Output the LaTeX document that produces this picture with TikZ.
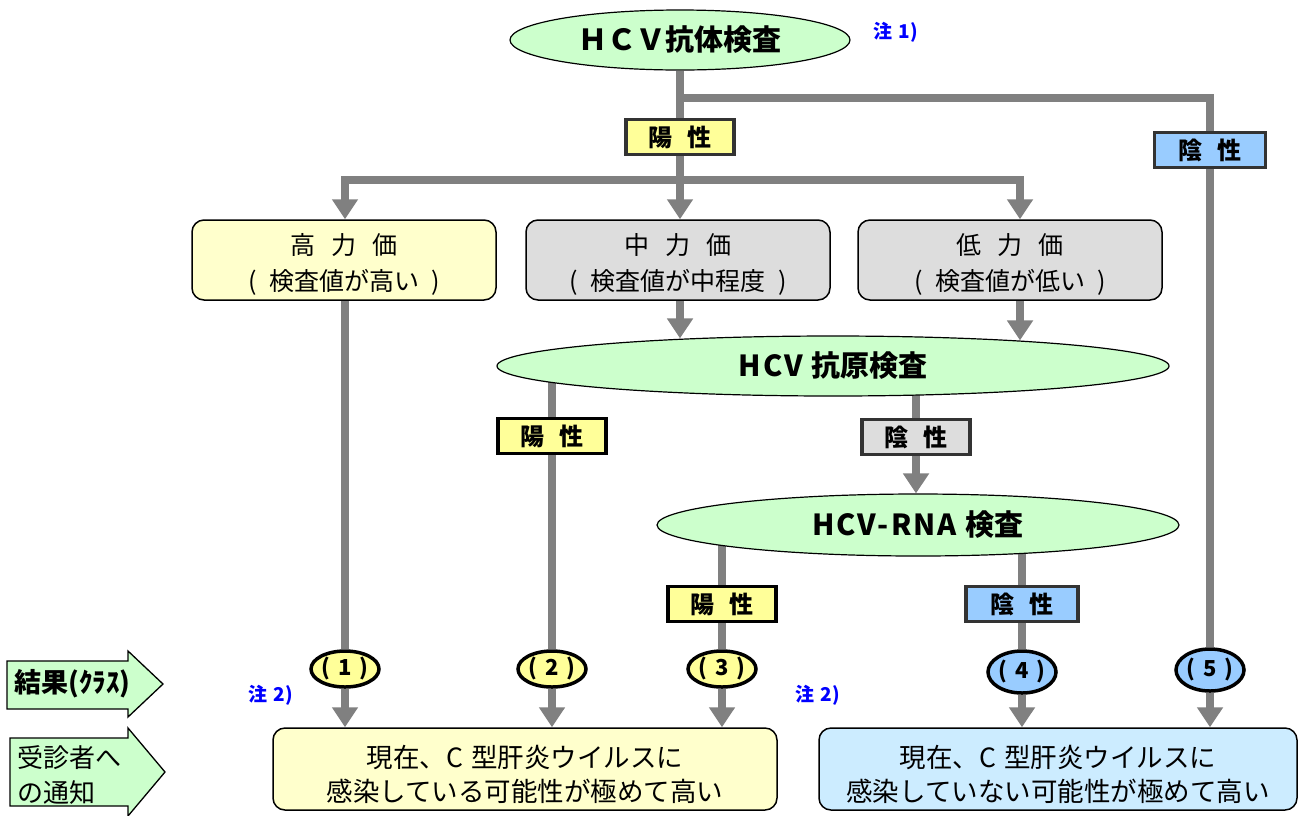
\documentclass[tikz,border=0pt]{standalone}
\usepackage{fontspec}
\setmainfont{Noto Sans CJK JP}
\usetikzlibrary{shapes.geometric,arrows.meta,backgrounds,calc}
\definecolor{lgreen}{HTML}{CCFFCC}
\definecolor{ybox}{HTML}{FFFF99}
\definecolor{lyel}{HTML}{FFFFCC}
\definecolor{gbox}{HTML}{DDDDDD}
\definecolor{bbox}{HTML}{99CCFF}
\definecolor{lblue}{HTML}{CCECFF}
\definecolor{lgray}{HTML}{808080}
\definecolor{notec}{HTML}{0000FF}
\newcommand{\lsp}[1]{{\addfontfeature{LetterSpace=7}#1}}
\begin{document}
\begin{tikzpicture}[x=1pt,y=-1pt,
  gl/.style={draw=lgray,line width=7.5pt},
  garr/.style={gl,-{Triangle[width=25pt,length=20pt]}},
  testell/.style={ellipse,draw=black,line width=1.2pt,fill=lgreen,inner sep=0pt,font=\fontsize{29}{29}\selectfont\bfseries},
  tag/.style={rectangle,draw=#1,line width=3.5pt,inner sep=0pt,minimum width=108pt,minimum height=35pt,font=\fontsize{24}{24}\selectfont\bfseries},
  lvl/.style={rectangle,rounded corners=12pt,draw=black,line width=1.5pt,minimum width=304pt,minimum height=80pt,inner sep=0pt},
  lvltext/.style={align=center,inner sep=0pt,font=\fontsize{25}{36}\selectfont},
  cls/.style={ellipse,draw=black,line width=3.5pt,inner sep=0pt,minimum width=68pt,text height=15pt,text depth=3pt,font=\fontsize{22}{22}\selectfont\bfseries},
  res/.style={rectangle,rounded corners=12pt,draw=black,line width=1.5pt,minimum height=82pt,inner sep=0pt},
  restext/.style={align=center,inner sep=0pt,font=\fontsize{26.5}{34}\selectfont},
  note/.style={text=notec,inner sep=0pt,font=\fontsize{19}{19}\selectfont\bfseries},
  sidearr/.style={draw=black,line width=1.3pt,fill=lgreen}
]
\useasboundingbox (0,0) rectangle (1305,815);

% tests
\node[testell,minimum width=340pt,minimum height=60pt] (ab) at (680,40) {ＨＣＶ抗体検査};
\node[note,anchor=west] (note1) at (873,32) {注\hspace{0.35em}1)};
\node[tag=black!80,fill=ybox] (pos1) at (680,137) {陽\hspace{0.6em}性};
\node[tag=black!80,fill=bbox,minimum width=111pt] (neg1) at (1210,150) {陰\hspace{0.6em}性};

\node[lvl,fill=lyel] (high) at (344,260) {};
\node[lvltext] (hight) at (344,264) {高\hspace{0.65em}力\hspace{0.65em}価\\(\hspace{0.5em}検査値が高い\hspace{0.5em})};
\node[lvl,fill=gbox] (mid) at (678,260) {};
\node[lvltext] (midt) at (678,264) {中\hspace{0.65em}力\hspace{0.65em}価\\(\hspace{0.5em}検査値が中程度\hspace{0.5em})};
\node[lvl,fill=gbox] (low) at (1010,260) {};
\node[lvltext] (lowt) at (1010,264) {低\hspace{0.65em}力\hspace{0.65em}価\\(\hspace{0.5em}検査値が低い\hspace{0.5em})};

\node[testell,minimum width=672pt,minimum height=60pt] (ag) at (833,366) {\lsp{HCV }抗原検査};
\node[tag=black,fill=ybox] (pos2) at (552,436) {陽\hspace{0.6em}性};
\node[tag=black!80,fill=gbox] (neg2) at (916,437) {陰\hspace{0.6em}性};

\node[testell,minimum width=522pt,minimum height=62pt] (rna) at (918,525) {\lsp{HCV-RNA }検査};
\node[tag=black,fill=ybox] (pos3) at (722,604) {陽\hspace{0.6em}性};
\node[tag=black!80,fill=bbox,minimum width=112pt] (neg3) at (1022,604) {陰\hspace{0.6em}性};

% classes
\node[cls,fill=ybox,minimum height=36pt] (c1) at (345,669) {(\hspace{0.35em}1\hspace{0.35em})};
\node[cls,fill=ybox,minimum height=36pt] (c2) at (552,669) {(\hspace{0.35em}2\hspace{0.35em})};
\node[cls,fill=ybox,minimum height=36pt] (c3) at (722,669) {(\hspace{0.35em}3\hspace{0.35em})};
\node[cls,fill=bbox,minimum height=42pt] (c4) at (1022,672) {(\hspace{0.35em}4\hspace{0.35em})};
\node[cls,fill=bbox,minimum height=42pt] (c5) at (1210,670) {(\hspace{0.35em}5\hspace{0.35em})};

\node[note,anchor=west] (note2a) at (248,695) {注\hspace{0.35em}2)};
\node[note,anchor=west] (note2b) at (795,695) {注\hspace{0.35em}2)};

% results
\node[res,fill=lyel,minimum width=504pt] (resL) at (525,769) {};
\node[restext] (resLt) at (525,774) {現在、C\hspace{0.3em}型肝炎ウイルスに\\感染している可能性が極めて高い};
\node[res,fill=lblue,minimum width=478pt] (resR) at (1058,769) {};
\node[restext] (resRt) at (1058,774) {現在、C\hspace{0.3em}型肝炎ウイルスに\\感染していない可能性が極めて高い};

% side arrows
\draw[sidearr] (7,661) -- (128,661) -- (128,651) -- (163,684) -- (128,717) -- (128,709) -- (7,709) -- cycle;
\node[anchor=west,inner sep=0pt,font=\fontsize{27}{27}\selectfont\bfseries] (kekka) at (14,684) {結果(ｸﾗｽ)};
\draw[sidearr] (10,738) -- (128,738) -- (128,728) -- (165,772) -- (128,816) -- (128,806) -- (10,806) -- cycle;
\node[anchor=west,align=left,inner sep=0pt,font=\fontsize{26}{35}\selectfont] (tsuchi) at (17,775) {受診者へ\\の通知};

% connectors
\coordinate (br) at (680,98);
\coordinate (hl) at (345,180);
\coordinate (hm) at (680,180);
\coordinate (hr) at (1020,180);
\coordinate (ml) at (680,300);
\coordinate (lr) at (1020,300);
\begin{scope}[on background layer]
\fill[white] (0,0) rectangle (1305,815);
\draw[gl] (ab.south) -- (pos1.north);
\draw[gl] (pos1.south) -- (hm);
\draw[gl] (br) -| (neg1.north);
\draw[gl] (neg1.south) -- (c5.north);
\draw[gl,line cap=rect] (hl) -- (hr);
\draw[garr] (hl) -- (high.north -| hl);
\draw[garr] (hm) -- (hm |- mid.north);
\draw[garr] (hr) -- (hr |- low.north);
\draw[gl] (high.south -| c1.north) -- (c1.north);
\draw[garr] (ml) -- ($(ml |- ag.north)+(0,3)$);
\draw[garr] (lr) -- ($(lr |- ag.north)+(0,5)$);
\draw[gl] (pos2.north |- ag.center) -- (pos2.north);
\draw[gl] (pos2.south) -- (c2.north);
\draw[gl] (neg2.north |- ag.center) -- (neg2.north);
\draw[garr] (neg2.south) -- (neg2.south |- rna.north);
\draw[gl] (pos3.north |- rna.center) -- (pos3.north);
\draw[gl] (pos3.south) -- (c3.north);
\draw[gl] (neg3.north |- rna.center) -- (neg3.north);
\draw[gl] (neg3.south) -- (c4.north);
\draw[garr] (c1.south) -- (c1.south |- resL.north);
\draw[garr] (c2.south) -- (c2.south |- resL.north);
\draw[garr] (c3.south) -- (c3.south |- resL.north);
\draw[garr] (c4.south) -- (c4.south |- resR.north);
\draw[garr] (c5.south) -- (c5.south |- resR.north);
\end{scope}
\end{tikzpicture}
\end{document}
